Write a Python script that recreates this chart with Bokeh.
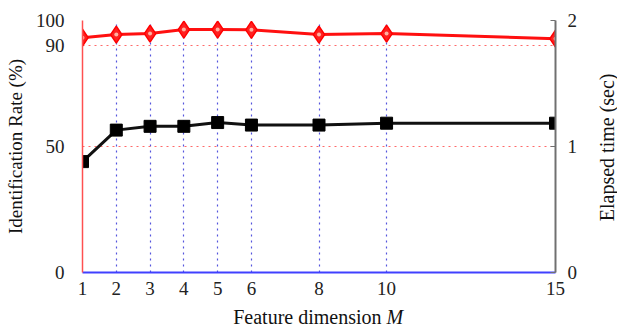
import math
from bokeh.plotting import figure
from bokeh.layouts import column, row
from bokeh.models import Range1d, LinearAxis, FixedTicker
from bokeh.core.properties import value
from bokeh.embed import file_html
from bokeh.resources import INLINE

# data
dims = [1, 2, 3, 4, 5, 6, 8, 10, 15]
ident_rate = [93.2, 94.4, 94.8, 96.4, 96.4, 96.3, 94.4, 94.8, 92.8]
elapsed = [0.88, 1.13, 1.16, 1.16, 1.19, 1.17, 1.17, 1.185, 1.185]
x_ticks = [1, 2, 3, 4, 5, 6, 8, 10, 15]
left_ticks = [0, 50, 90, 100]
right_ticks = [0, 1, 2]
x_title = "Feature dimension"
x_title_var = "M"
right_title = "Elapsed time (sec)"

FONT = "Liberation Serif"

p = figure(frame_width=473, frame_height=252, output_backend="svg", toolbar_location=None,
           x_range=Range1d(1, 15), y_range=Range1d(0, 100),
           min_border_left=82, min_border_right=35, min_border_top=20, min_border_bottom=28)
p.outline_line_color = None
p.background_fill_color = "white"
p.extra_y_ranges = {"time": Range1d(0, 2)}

# axes
xa = p.xaxis[0]
xa.ticker = FixedTicker(ticks=x_ticks)
xa.axis_line_color = "#4040ff"
xa.axis_line_width = 2
xa.major_tick_line_color = None
xa.minor_tick_line_color = None
xa.major_label_text_font = FONT
xa.major_label_text_font_size = "19px"
xa.major_label_text_color = "#222222"
xa.major_label_standoff = 3

ya = p.yaxis[0]
ya.ticker = FixedTicker(ticks=left_ticks)
ya.axis_line_color = "#ff5050"
ya.axis_line_width = 1.5
ya.major_tick_line_color = None
ya.minor_tick_line_color = None
ya.major_label_text_font = FONT
ya.major_label_text_font_size = "19px"
ya.major_label_text_color = "#222222"
ya.major_label_standoff = 12
ya.axis_label = "Identification Rate (%)"
ya.axis_label_text_font = FONT
ya.axis_label_text_font_size = "19px"
ya.axis_label_text_font_style = "normal"
ya.axis_label_text_color = "#111111"
ya.axis_label_standoff = 7

ra = LinearAxis(y_range_name="time", ticker=FixedTicker(ticks=right_ticks))
ra.axis_line_color = "#707070"
ra.axis_line_width = 2
ra.major_tick_in = 5
ra.major_tick_out = 0
ra.major_tick_line_color = "#707070"
ra.minor_tick_line_color = None
ra.major_label_text_font = FONT
ra.major_label_text_font_size = "19px"
ra.major_label_text_color = "#222222"
ra.major_label_standoff = 12
p.add_layout(ra, "right")

# grids
p.xgrid.ticker = FixedTicker(ticks=x_ticks)
p.xgrid.grid_line_color = "#5555dd"
p.xgrid.grid_line_dash = "2 4"
p.xgrid.grid_line_width = 1.2
p.ygrid.ticker = FixedTicker(ticks=left_ticks)
p.ygrid.grid_line_color = "#ff6a6a"
p.ygrid.grid_line_dash = "2 4"
p.ygrid.grid_line_width = 1.2

# series
p.line(dims, ident_rate, line_color="#ff1010", line_width=3)
p.scatter(dims, ident_rate, marker="diamond", size=17, fill_color="#ff2020",
          line_color="#ff0000", line_width=1.5)
p.scatter(dims, ident_rate, marker="circle", size=4, fill_color="#ffb0a0",
          line_color=None)
p.line(dims, elapsed, y_range_name="time", line_color="#111111", line_width=3)
p.scatter(dims, elapsed, y_range_name="time", marker="square", size=12,
          fill_color="#000000", line_color="#000000")

# right axis title column (reads bottom to top)
r = figure(width=27, height=300, output_backend="svg", toolbar_location=None,
           x_range=Range1d(0, 27), y_range=Range1d(0, 300),
           min_border=0, x_axis_type=None, y_axis_type=None)
r.outline_line_color = None
r.grid.visible = False
r.text(x=[16], y=[149], text=[right_title], angle=math.pi / 2, text_align="center",
       text_baseline="middle", text_font=value(FONT), text_font_size="20px",
       text_color="#111111")

# x axis title row (mixed upright / italic text)
t = figure(width=617, height=27, output_backend="svg", toolbar_location=None,
           x_range=Range1d(0, 617), y_range=Range1d(0, 27),
           min_border=0, x_axis_type=None, y_axis_type=None)
t.outline_line_color = None
t.grid.visible = False
t.text(x=[381], y=[11], text=[x_title], text_align="right", text_baseline="middle",
       text_font=value(FONT), text_font_size="20px", text_color="#111111")
t.text(x=[386], y=[11], text=[x_title_var], text_align="left", text_baseline="middle",
       text_font=value(FONT), text_font_size="20px", text_font_style="italic",
       text_color="#111111")

layout = column(row(p, r, spacing=0), t, spacing=0)
open("out.html", "w").write(file_html(layout, INLINE))
